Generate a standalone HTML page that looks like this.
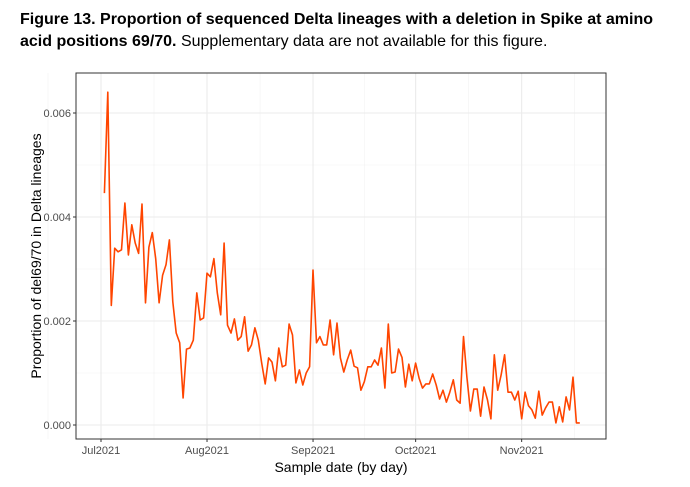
<!DOCTYPE html>
<html><head><meta charset="utf-8"><style>
body{margin:0;background:#fff;width:690px;height:487px;overflow:hidden;font-family:"Liberation Sans",Arial,sans-serif}
#title{position:absolute;left:20px;top:9px;width:655px;font-size:16px;line-height:22px;color:#000}
</style></head><body>
<div id="title"><b>Figure 13. Proportion of sequenced Delta lineages with a deletion in Spike at amino acid positions 69/70.</b> Supplementary data are not available for this figure.</div>
<svg id="chart" width="690" height="487" style="position:absolute;left:0;top:0" xmlns="http://www.w3.org/2000/svg"></svg>
<script>
const values=[0.00446,0.0064,0.0023,0.0034,0.00333,0.00337,0.00427,0.00327,0.00385,0.0035,0.0033,0.00425,0.00235,0.00342,0.0037,0.0032,0.00235,0.00288,0.00308,0.00356,0.00237,0.00177,0.00158,0.00052,0.00146,0.00148,0.00163,0.00254,0.00202,0.00206,0.00292,0.00285,0.0032,0.00254,0.00212,0.0035,0.00192,0.00177,0.00204,0.00163,0.0017,0.00208,0.00142,0.00154,0.00187,0.00163,0.00119,0.00079,0.00129,0.00121,0.00085,0.00148,0.00112,0.00115,0.00194,0.00173,0.00081,0.00106,0.00077,0.001,0.00112,0.00298,0.00158,0.0017,0.00154,0.00154,0.00202,0.00135,0.00196,0.00129,0.00102,0.00125,0.00144,0.00113,0.0011,0.00067,0.00083,0.00112,0.00112,0.00125,0.00115,0.00148,0.00071,0.00194,0.001,0.00102,0.00146,0.0013,0.00073,0.00117,0.00085,0.00119,0.0009,0.00071,0.00079,0.00079,0.00098,0.00077,0.0005,0.00067,0.00044,0.00063,0.00087,0.00048,0.00042,0.0017,0.00092,0.00027,0.00069,0.00069,0.00017,0.00073,0.00048,0.00012,0.00135,0.00067,0.00096,0.00135,0.00063,0.00063,0.00048,0.00065,0.00012,0.00063,0.00037,0.00029,0.00013,0.00065,0.00019,0.00033,0.00044,0.00044,0.00004,0.00035,0.00006,0.00054,0.00029,0.00092,0.00004,0.00004];
const startDay=1; // days since Jul 1 2021
const xTickLabels=["Jul2021","Aug2021","Sep2021","Oct2021","Nov2021"];
const xTickDays=[0,31,62,92,123];
const yTicks=[0,0.002,0.004,0.006];
const yTickLabels=["0.000","0.002","0.004","0.006"];
const NS="http://www.w3.org/2000/svg";
const svg=document.getElementById('chart');
const L=76,R=606,T=73,B=439;
const x=d=>101+d*3.42;
const y=v=>425-v*52000;
function mk(t,a,p){const e=document.createElementNS(NS,t);for(const k in a)e.setAttribute(k,a[k]);(p||svg).appendChild(e);return e;}
mk('rect',{x:L,y:T,width:R-L,height:B-T,fill:'#fff'});
for(let i=0;i<xTickDays.length;i++){const a=xTickDays[i],b=i+1<xTickDays.length?xTickDays[i+1]:a+31;const m=mk('line',{x1:x((a+b)/2),x2:x((a+b)/2),y1:T,y2:B,stroke:'#f2f2f2','stroke-width':0.6});}
{const m=mk('line',{x1:x(-15.5),x2:x(-15.5),y1:T,y2:B,stroke:'#f2f2f2','stroke-width':0.6});}
[0.001,0.003,0.005,0.007].forEach(v=>{if(y(v)>T){const m=mk('line',{x1:L,x2:R,y1:y(v),y2:y(v),stroke:'#f2f2f2','stroke-width':0.6});}});
yTicks.forEach((v,i)=>{
 const g=mk('line',{x1:L,x2:R,y1:y(v),y2:y(v),stroke:'#ebebeb','stroke-width':1.1});
 
 mk('line',{x1:L-3,x2:L,y1:y(v),y2:y(v),stroke:'#333','stroke-width':1});
 const t=mk('text',{x:L-5,y:y(v)+4,'text-anchor':'end','font-size':11,fill:'#4d4d4d'});
 t.textContent=yTickLabels[i];
 
});
xTickDays.forEach((d,i)=>{
 const g=mk('line',{x1:x(d),x2:x(d),y1:T,y2:B,stroke:'#ebebeb','stroke-width':1.1});
 
 mk('line',{x1:x(d),x2:x(d),y1:B,y2:B+3,stroke:'#333','stroke-width':1});
 const t=mk('text',{x:x(d),y:B+15,'text-anchor':'middle','font-size':11,fill:'#4d4d4d'});
 t.textContent=xTickLabels[i];
 
});
const pts=values.map((v,i)=>x(startDay+i).toFixed(1)+','+y(v).toFixed(1)).join(' ');
const line=mk('polyline',{points:pts,fill:'none',stroke:'#ff4500','stroke-width':1.6,'stroke-linejoin':'round'});


const border=mk('rect',{x:L,y:T,width:R-L,height:B-T,fill:'none',stroke:'#333','stroke-width':1});


const xt=mk('text',{x:(L+R)/2,y:472,'text-anchor':'middle','font-size':14,fill:'#000'});
xt.textContent='Sample date (by day)';


const yt=mk('text',{x:0,y:0,'text-anchor':'middle','font-size':14,fill:'#000',transform:`translate(41,${(T+B)/2}) rotate(-90)`});
yt.textContent='Proportion of del69/70 in Delta lineages';


</script>
</body></html>
